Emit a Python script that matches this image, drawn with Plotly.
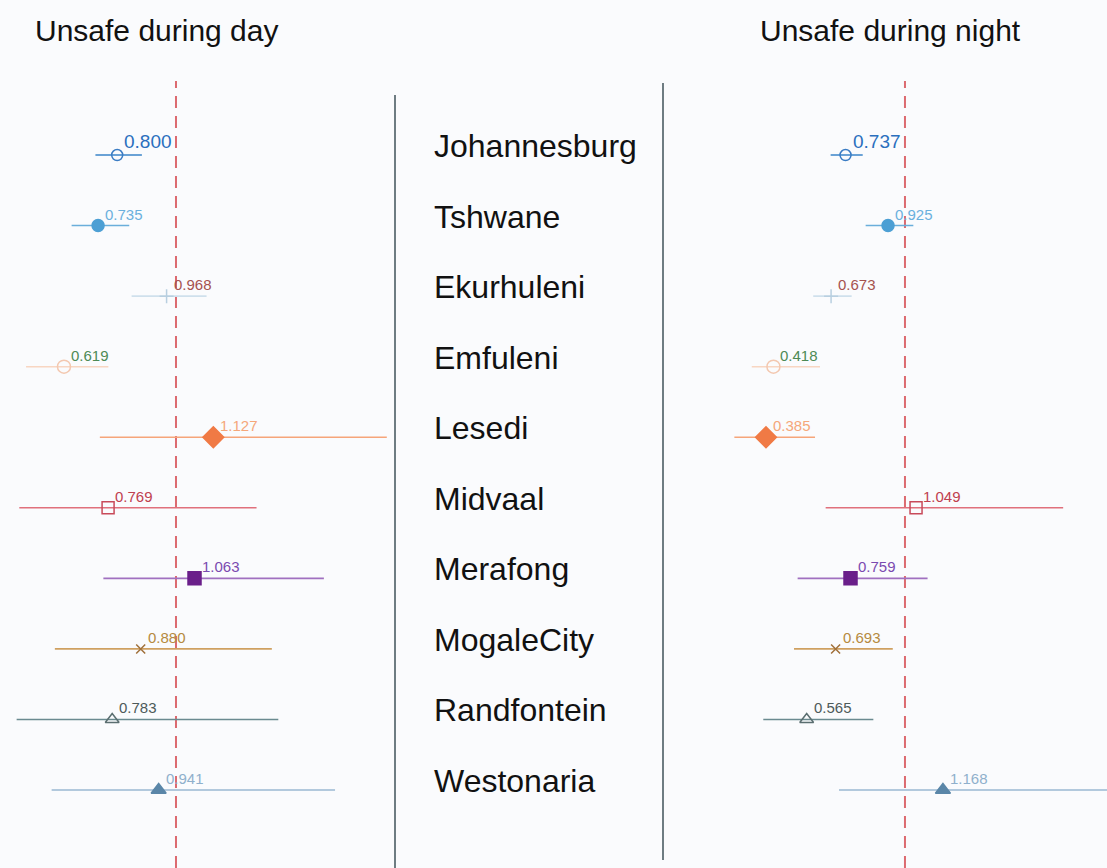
import plotly.graph_objects as go

# ---------------- data ----------------
municipalities = ["Johannesburg", "Tshwane", "Ekurhuleni", "Emfuleni", "Lesedi",
                  "Midvaal", "Merafong", "MogaleCity", "Randfontein", "Westonaria"]

day_or = [0.800, 0.735, 0.968, 0.619, 1.127, 0.769, 1.063, 0.880, 0.783, 0.941]
day_lo = [0.726, 0.645, 0.849, 0.490, 0.741, 0.467, 0.753, 0.588, 0.458, 0.577]
day_hi = [0.884, 0.841, 1.104, 0.770, 1.717, 1.274, 1.503, 1.326, 1.348, 1.541]

night_or = [0.737, 0.925, 0.673, 0.418, 0.385, 1.049, 0.759, 0.693, 0.565, 1.168]
night_lo = [0.671, 0.826, 0.594, 0.322, 0.245, 0.649, 0.525, 0.509, 0.373, 0.708]
night_hi = [0.813, 1.037, 0.764, 0.624, 0.602, 1.700, 1.100, 0.946, 0.860, 1.950]

panel_titles = ["Unsafe during day", "Unsafe during night"]
reference_value = 1.0

# ---------------- styles ----------------
line_colors = ["#3a84c8", "#6aaedb", "#cfe0ec", "#f8d6c2", "#f6a57a",
               "#e0707c", "#a070c0", "#cfa060", "#6a8a90", "#9ab8d2"]
marker_colors = ["#3a7cc4", "#4c9fd4", "#b8cfe0", "#f3c8b0", "#f07a45",
                 "#c84a5a", "#6a1f8a", "#a0703a", "#5a6e70", "#5a86a8"]
label_colors = ["#2a6fbe", "#6ab0dd", "#a5524f", "#4d8a55", "#f5a77a",
                "#c0404f", "#7a4ab0", "#b58a40", "#4d5a5a", "#8fb0cc"]
symbols = ["circle-open", "circle", "cross-thin-open", "circle-open", "diamond",
           "square-open", "square", "x-thin-open", "triangle-up-open", "triangle-up"]
sizes = [11, 12, 10, 13, 16, 12, 13, 9, 12, 13]
label_sizes = [19, 15, 15, 15, 15, 15, 15, 15, 15, 15]

W, H = 1107, 868
FONT = "Liberation Sans, Arial, sans-serif"

fig = go.Figure()

panels = [("x", day_or, day_lo, day_hi), ("x2", night_or, night_lo, night_hi)]
for xa, est, lo, hi in panels:
    for i, name in enumerate(municipalities):
        fig.add_trace(go.Scatter(
            x=[est[i]], y=[name], xaxis=xa, yaxis="y",
            mode="markers",
            marker=dict(symbol=symbols[i], size=sizes[i], color=marker_colors[i],
                        line=dict(width=1.5, color=marker_colors[i])),
            error_x=dict(type="data", symmetric=False,
                         array=[hi[i] - est[i]], arrayminus=[est[i] - lo[i]],
                         color=line_colors[i], thickness=1.6, width=0),
            showlegend=False, hoverinfo="skip", cliponaxis=True,
        ))
        fig.add_annotation(
            x=est[i], y=name, xref=xa, yref="y",
            text=f"{est[i]:.3f}", showarrow=False,
            xanchor="left", yanchor="bottom", xshift=5, yshift=1,
            font=dict(family=FONT, size=label_sizes[i], color=label_colors[i]),
        )

# central labels
for name in municipalities:
    fig.add_annotation(
        x=432 / W, y=name, xref="paper", yref="y",
        text=name, showarrow=False, xanchor="left", yanchor="middle", yshift=9,
        font=dict(family=FONT, size=32, color="#111111"),
    )

# titles
fig.add_annotation(x=33 / W, y=1 - 30 / H, xref="paper", yref="paper",
                   text=panel_titles[0], showarrow=False, xanchor="left", yanchor="middle",
                   font=dict(family=FONT, size=30, color="#111111"))
fig.add_annotation(x=758 / W, y=1 - 30 / H, xref="paper", yref="paper",
                   text=panel_titles[1], showarrow=False, xanchor="left", yanchor="middle",
                   font=dict(family=FONT, size=30, color="#111111"))

# reference dashed lines
for xa in ["x", "x2"]:
    fig.add_shape(type="line", xref=xa, yref="paper",
                  x0=reference_value, x1=reference_value, y0=0, y1=1 - 81 / H,
                  line=dict(color="#dc6a70", width=2, dash="12px,8px"), layer="below")

# separators
fig.add_shape(type="line", xref="paper", yref="paper", x0=395 / W, x1=395 / W,
              y0=0, y1=1 - 95 / H, line=dict(color="#6e7c82", width=2))
fig.add_shape(type="line", xref="paper", yref="paper", x0=663 / W, x1=663 / W,
              y0=1 - 860 / H, y1=1 - 83 / H, line=dict(color="#6e7c82", width=2))

axis_common = dict(showgrid=False, zeroline=False, showticklabels=False,
                   showline=False, ticks="", fixedrange=True)

fig.update_layout(
    width=W, height=H,
    margin=dict(l=0, r=0, t=0, b=0),
    paper_bgcolor="#fafbfd", plot_bgcolor="rgba(0,0,0,0)",
    xaxis=dict(domain=[0, 390 / W], range=[0.4014, 1.7279], anchor="y", **axis_common),
    xaxis2=dict(domain=[670 / W, 1], range=[-0.0398, 1.894], anchor="y", **axis_common),
    yaxis=dict(type="category", categoryorder="array", categoryarray=municipalities,
               range=[10.105, -2.197], domain=[0, 1], **axis_common),
    showlegend=False,
    hovermode=False,
)

fig.write_html("out.html",
               config={"displayModeBar": False, "staticPlot": True},
               post_script="document.body.style.margin='0px';document.body.style.overflow='hidden';")
